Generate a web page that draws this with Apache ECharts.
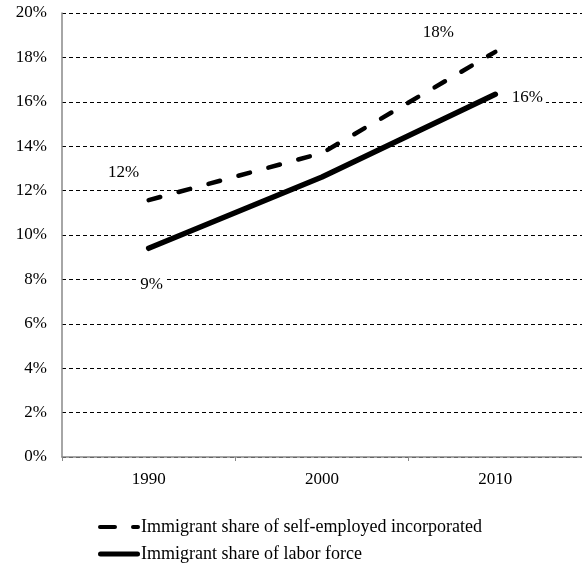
<!DOCTYPE html>
<html>
<head>
<meta charset="utf-8">
<script src="https://cdn.jsdelivr.net/npm/echarts@6/dist/echarts.min.js"></script>
<style>html,body{margin:0;padding:0;background:#fff;}#c{width:582px;height:567px;}</style>
</head>
<body>
<div id="c"></div>
<script>
var categories = ['1990', '2000', '2010'];
var selfEmployedInc = [11.57, 13.69, 18.25];
var laborForce = [9.4, 12.61, 16.34];
var seriesNames = ['Immigrant share of self-employed incorporated', 'Immigrant share of labor force'];
var labeledIdx = [0, 2];

var FONT = 'Liberation Serif';
function mkData(vals, offsets) {
  return vals.map(function (v, i) {
    var k = labeledIdx.indexOf(i);
    if (k < 0) return v;
    return { value: v, label: { show: true, position: 'inside', offset: offsets[k] } };
  });
}
var chart = echarts.init(document.getElementById('c'), null, { renderer: 'canvas' });
var labelBase = {
  show: false, color: '#000', fontFamily: FONT, fontSize: 17,
  backgroundColor: '#fff', padding: [1, 3],
  formatter: function (p) { return Math.round(p.value) + '%'; }
};
chart.setOption({
  animation: false,
  textStyle: { fontFamily: FONT },
  grid: { left: 62, right: -4, top: 13, bottom: 110, containLabel: false },
  legend: {
    orient: 'vertical', left: 93, top: 513, itemWidth: 42, itemHeight: 5, itemGap: 9,
    height: 60,
    textStyle: { fontFamily: FONT, fontSize: 18, color: '#000', padding: [0, 0, 0, -4] },
    data: [
      { name: seriesNames[0], icon: 'path://M2,0h15a2,2 0 0 1 0,4h-15a2,2 0 0 1 0,-4z M35,0h5a2,2 0 0 1 0,4h-5a2,2 0 0 1 0,-4z', itemStyle: { color: '#000' } },
      { name: seriesNames[1], icon: 'path://M2.5,0h37a2.5,2.5 0 0 1 0,5h-37a2.5,2.5 0 0 1 0,-5z', itemStyle: { color: '#000' } }
    ]
  },
  xAxis: {
    type: 'category', data: categories, boundaryGap: true,
    axisLine: { lineStyle: { color: '#888', width: 1.5 } },
    axisTick: { show: true, length: 4, lineStyle: { color: '#888' } },
    axisLabel: { color: '#000', fontFamily: FONT, fontSize: 17, margin: 14 }
  },
  yAxis: {
    type: 'value', min: 0, max: 20, interval: 2,
    axisLine: { show: true, lineStyle: { color: '#888', width: 1.5 } },
    axisTick: { show: false },
    axisLabel: { color: '#000', fontFamily: FONT, fontSize: 17, margin: 15, formatter: '{value}%' },
    splitLine: { lineStyle: { color: '#000', type: [4, 3], width: 1 } }
  },
  series: [
    {
      name: seriesNames[0], type: 'line', symbol: 'circle', symbolSize: 0, showSymbol: true,
      lineStyle: { color: '#000', width: 4.5, type: [12, 19], cap: 'round' },
      itemStyle: { color: '#000' },
      label: labelBase,
      data: mkData(selfEmployedInc, [[-25, -28], [-57, -19]])
    },
    {
      name: seriesNames[1], type: 'line', symbol: 'circle', symbolSize: 0, showSymbol: true,
      lineStyle: { color: '#000', width: 5.5, cap: 'round' },
      itemStyle: { color: '#000' },
      label: labelBase,
      data: mkData(laborForce, [[3, 36], [32, 3]])
    }
  ]
});
</script>
</body>
</html>
